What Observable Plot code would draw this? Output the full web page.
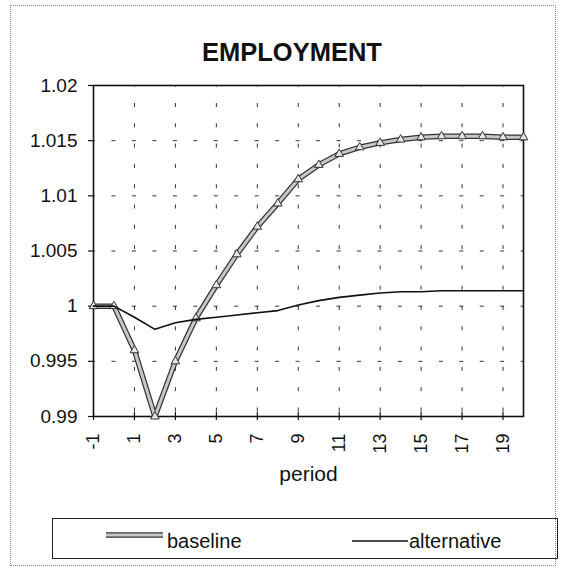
<!DOCTYPE html>
<html><head><meta charset="utf-8">
<script src="https://cdn.jsdelivr.net/npm/d3@7"></script>
<script src="https://cdn.jsdelivr.net/npm/@observablehq/plot@0.6"></script>
<style>
body{margin:0;background:#fff;font-family:"Liberation Sans",Arial,sans-serif;}
#wrap{position:relative;width:563px;height:569px;overflow:hidden;background:#fff;}
#border{position:absolute;left:10px;top:5px;width:546px;height:561px;border:1px dotted #888;box-sizing:border-box;}
#title{position:absolute;left:0;width:584px;top:40px;text-align:center;font-weight:bold;font-size:25.5px;line-height:25.5px;color:#111;}
#plot{position:absolute;left:0;top:0;}
#legend{position:absolute;left:52px;top:518px;width:506px;height:41px;border:1px solid #222;box-sizing:border-box;font-size:20px;color:#111;}
#legend span{position:absolute;line-height:20px;white-space:nowrap;}
#legend svg{position:absolute;overflow:visible;}
</style></head>
<body>
<div id="wrap">
  <div id="border"></div>
  <div id="title">EMPLOYMENT</div>
  <div id="plot"></div>
  <div id="legend">
    <svg style="left:53px;top:16px" width="57" height="1"><line x1="0" y1="0" x2="57" y2="0" stroke="#333" stroke-width="5.5"/><line x1="0" y1="0" x2="57" y2="0" stroke="#c8c8c8" stroke-width="3"/></svg>
    <span style="left:114px;top:11.6px">baseline</span>
    <svg style="left:299px;top:22px" width="56" height="1"><line x1="0" y1="0" x2="56" y2="0" stroke="#111" stroke-width="1.6"/></svg>
    <span style="left:356px;top:11.6px">alternative</span>
  </div>
</div>
<script>
const periods = [-1, 0, 1, 2, 3, 4, 5, 6, 7, 8, 9, 10, 11, 12, 13, 14, 15, 16, 17, 18, 19, 20];
const baseline = [1.0000, 1.0000, 0.9960, 0.9900, 0.9950, 0.9989, 1.0019, 1.0047, 1.0072, 1.0093, 1.0115, 1.0128, 1.0138, 1.0144, 1.0148, 1.0151, 1.0153, 1.0154, 1.0154, 1.0154, 1.0153, 1.0153];
const alternative = [1.0000, 1.0000, 0.9990, 0.9979, 0.9985, 0.9988, 0.9990, 0.9992, 0.9994, 0.9996, 1.0001, 1.0005, 1.0008, 1.0010, 1.0012, 1.0013, 1.0013, 1.0014, 1.0014, 1.0014, 1.0014, 1.0014];
const xTicks = [-1, 1, 3, 5, 7, 9, 11, 13, 15, 17, 19];
const xGrid = [1, 3, 5, 7, 9, 11, 13, 15, 17, 19];
const yTicks = [0.99, 0.995, 1, 1.005, 1.01, 1.015, 1.02];
const yGrid = [0.995, 1, 1.005, 1.01, 1.015];
const xDomain = [-1, 20];
const yDomain = [0.99, 1.02];
const xLabel = "period";

const data = periods.map((p, i) => ({period: p, baseline: baseline[i], alternative: alternative[i]}));

const chart = Plot.plot({
  width: 563,
  height: 500,
  marginTop: 85,
  marginBottom: 84,
  marginLeft: 93,
  marginRight: 40,
  style: {fontFamily: "Liberation Sans, Arial, sans-serif", fontSize: "19px", color: "#111", background: "transparent", overflow: "visible"},
  x: {domain: xDomain},
  y: {domain: yDomain},
  marks: [
    Plot.gridY(yGrid, {stroke: "#333", strokeOpacity: 1, strokeWidth: 1, strokeDasharray: "4,16.46", strokeDashoffset: 2}),
    Plot.gridX(xGrid, {stroke: "#333", strokeOpacity: 1, strokeWidth: 1, strokeDasharray: "4,16.3", strokeDashoffset: -18}),
    Plot.axisY(yTicks, {tickSize: 5, tickPadding: 11, tickFormat: d3.format("~g"), fontSize: 19, label: null, strokeWidth: 1.2}),
    Plot.axisX(xTicks, {tickSize: 0, tickPadding: 17, tickRotate: -90, tickFormat: d => String(d), fontSize: 18, label: null}),
    Plot.ruleX(xTicks, {x: d => d, y1: () => yDomain[0], y2: () => yDomain[0], insetTop: -4, insetBottom: -4, stroke: "#111", strokeWidth: 1.2}),
    Plot.frame({stroke: "#111", strokeWidth: 1.6}),
    Plot.line(data, {x: "period", y: "baseline", stroke: "#333", strokeWidth: 5.5}),
    Plot.line(data, {x: "period", y: "baseline", stroke: "#c8c8c8", strokeWidth: 3}),
    Plot.dot(data, {x: "period", y: "baseline", symbol: "triangle", r: 3.2, fill: "#e6e6e6", stroke: "#333", strokeWidth: 1}),
    Plot.line(data, {x: "period", y: "alternative", stroke: "#111", strokeWidth: 1.6}),
    Plot.text([xLabel], {text: d => d, frameAnchor: "bottom", dy: 64, fontSize: 21, fill: "#111"})
  ]
});
document.getElementById("plot").appendChild(chart);
</script>
</body></html>
